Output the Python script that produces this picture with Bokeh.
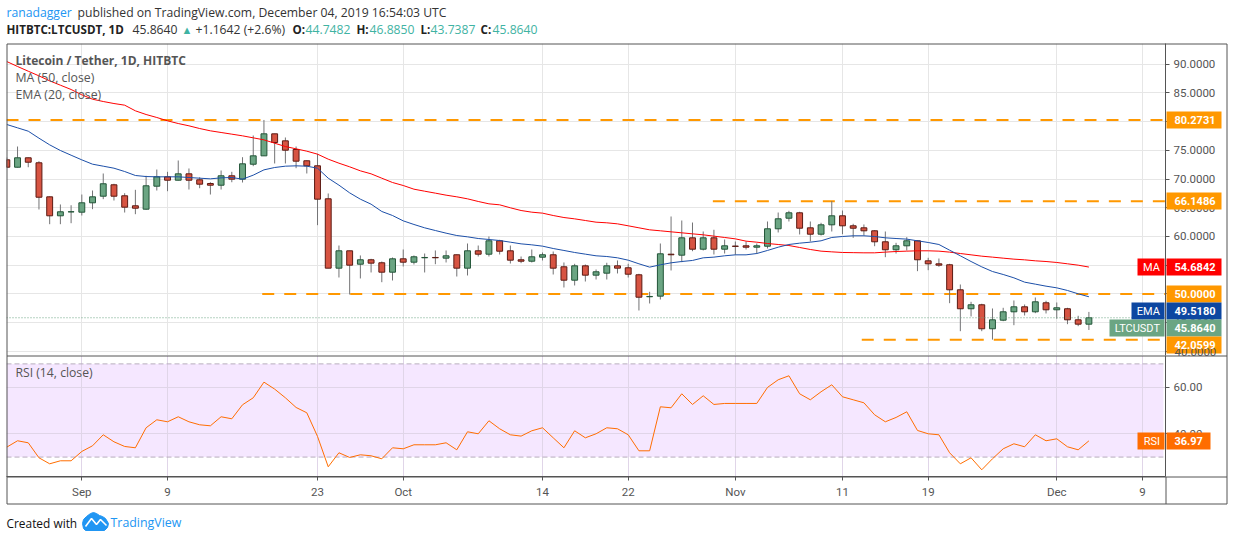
from bokeh.plotting import figure
from bokeh.layouts import column, row
from bokeh.models import Label, Span, FixedTicker, Range1d
from bokeh.embed import file_html
from bokeh.resources import INLINE

days = list(range(-7, 95))
opens = [73.34,72.05,73.69,72.82,66.90,63.60,64.28,64.23,65.86,67.01,68.99,67.08,65.34,64.75,68.75,70.38,69.79,70.90,69.86,69.22,68.92,70.56,69.97,72.57,74.03,77.86,76.64,75.13,73.17,72.30,66.56,54.49,57.51,55.18,55.95,55.43,53.79,56.12,55.53,56.30,56.35,56.23,56.82,54.49,57.51,56.92,59.25,57.51,55.95,55.70,56.40,56.82,54.73,52.40,54.90,53.27,53.62,54.90,54.56,53.34,49.52,49.62,56.92,56.75,59.77,57.79,59.77,57.79,58.33,58.38,58.14,58.31,61.34,63.18,64.12,61.51,60.40,62.03,63.60,61.86,61.51,60.99,59.08,57.69,58.38,59.25,55.77,55.25,55.08,50.73,47.43,48.12,43.95,45.44,46.90,47.77,46.90,48.47,47.25,47.43,45.51,44.7482]
highs = [73.74,75.65,73.74,73.10,66.96,65.57,65.44,67.30,68.00,70.96,69.17,67.53,68.12,70.56,71.65,71.25,73.22,71.83,70.31,69.44,71.48,71.25,73.79,77.57,80.27,77.86,77.22,75.65,73.22,74.38,67.48,58.43,57.51,56.70,56.12,55.65,56.35,57.74,56.70,57.04,57.57,57.57,56.87,58.78,58.43,60.00,59.43,58.43,56.52,57.74,57.22,57.39,55.48,55.25,55.13,54.26,55.43,55.83,55.25,53.51,50.38,58.78,63.48,62.78,62.43,60.87,61.17,59.48,59.13,59.13,58.78,62.61,64.17,64.47,64.30,62.61,62.38,66.15,64.52,62.21,62.09,61.10,60.87,58.90,59.88,59.30,56.30,56.17,55.25,51.65,48.64,48.30,47.48,47.60,48.87,48.17,49.39,48.82,48.52,47.60,46.21,46.885]
lows = [72.00,72.00,72.05,64.70,62.14,62.14,62.31,63.65,64.75,66.49,66.26,64.17,63.88,64.64,68.00,67.88,69.74,68.17,68.40,67.30,68.17,69.44,69.39,72.23,74.03,72.70,72.70,71.88,70.96,61.97,54.49,52.87,49.91,52.70,53.74,52.05,52.35,54.78,55.13,53.74,55.18,55.48,53.04,53.22,56.52,56.52,56.87,55.30,55.36,55.48,55.83,53.39,51.13,51.48,52.17,52.52,52.52,53.57,52.87,47.13,48.35,49.04,54.09,55.53,57.44,57.57,56.87,57.04,56.82,57.74,56.99,57.91,60.70,62.61,60.35,59.13,60.17,60.87,60.40,59.77,60.17,58.31,56.40,57.04,57.57,53.97,54.14,54.73,48.40,43.53,46.09,43.53,42.06,45.27,44.57,46.26,46.66,46.61,45.69,44.75,44.40,43.7387]
closes = [72.05,73.69,72.92,66.83,63.60,64.30,64.30,65.86,66.90,69.17,67.01,65.10,64.92,68.82,70.38,69.79,70.90,69.79,69.10,68.92,70.56,69.97,72.64,74.03,77.86,76.35,75.01,73.10,72.30,66.49,54.49,57.51,55.01,55.95,55.36,53.79,56.12,55.53,56.47,56.35,56.30,56.64,54.49,57.51,56.92,59.25,57.44,55.88,55.70,56.47,56.82,54.49,52.40,54.90,53.27,53.86,54.90,54.49,53.44,49.44,49.57,56.99,56.82,59.77,57.79,59.77,57.79,58.38,58.28,58.14,58.38,61.34,63.08,64.12,61.44,60.40,62.03,63.60,61.86,61.44,60.99,59.08,57.69,58.38,59.25,55.95,55.25,55.01,50.73,47.43,48.12,43.95,45.51,46.90,47.77,46.90,48.64,47.25,47.60,45.51,44.75,45.864]
ma50 = [90.43,89.57,88.75,87.94,87.07,86.32,85.57,84.64,83.88,83.48,83.13,82.84,81.86,81.22,80.70,80.12,79.65,79.25,78.78,78.38,78.09,77.80,77.51,77.16,76.81,76.23,75.65,75.25,74.84,74.32,73.45,72.75,72.12,71.42,70.90,70.14,69.39,68.87,68.23,67.88,67.54,67.19,66.90,66.55,66.09,65.68,65.51,64.99,64.52,64.23,64.06,63.65,63.30,63.07,62.78,62.49,62.38,62.20,61.86,61.51,61.16,60.99,60.81,60.64,60.46,60.29,60.06,59.83,59.59,59.19,59.01,58.78,58.61,58.43,58.09,57.74,57.45,57.33,57.22,57.19,57.16,57.16,57.28,57.39,57.45,57.51,57.51,57.45,57.28,57.04,56.81,56.58,56.41,56.23,56.06,55.94,55.77,55.65,55.48,55.25,55.01,54.6842]
ema20 = [79.48,78.90,78.32,77.10,75.94,74.96,74.14,73.33,72.58,72.23,71.88,71.30,70.61,70.43,70.38,70.38,70.38,70.26,70.14,70.03,70.20,70.26,69.97,70.67,71.59,72.00,72.23,72.29,72.23,71.88,70.14,68.93,67.59,66.49,65.62,64.35,63.65,62.72,62.09,61.51,61.04,60.58,60.17,59.94,59.65,59.48,59.30,59.01,58.72,58.55,58.32,57.91,57.57,57.22,56.93,56.64,56.52,56.29,55.88,55.25,54.67,55.07,55.42,55.65,55.83,56.29,56.41,56.64,56.81,56.81,57.04,57.57,58.14,58.61,58.84,59.01,59.25,59.83,60.00,60.12,60.12,60.00,59.77,59.65,59.54,59.25,58.96,58.61,57.62,56.64,55.65,54.72,53.91,53.39,52.81,52.06,51.71,51.36,51.07,50.61,50.03,49.518]
rsi14 = [34.28,37.00,36.14,29.70,27.12,28.41,28.41,32.42,34.85,39.57,36.57,34.56,33.99,42.58,46.01,45.15,47.30,45.15,43.86,43.43,47.30,46.44,52.45,55.45,62.17,59.17,55.45,51.30,49.01,38.86,25.84,31.85,29.84,30.99,30.56,29.27,33.99,33.56,35.28,35.28,35.28,36.14,33.13,40.86,40.00,45.58,42.15,39.57,39.00,41.29,42.58,38.28,33.99,41.29,38.28,40.00,42.58,42.15,39.57,32.70,32.70,51.59,51.16,57.17,52.59,56.31,52.59,53.02,53.02,53.02,53.02,59.89,63.18,64.89,57.17,54.59,58.03,61.03,55.88,54.59,53.30,48.15,45.15,47.01,49.44,41.43,40.00,39.57,31.85,27.12,29.70,24.55,29.27,33.56,35.71,34.42,39.57,37.00,37.85,34.42,33.13,36.97]

price_ticks = [40, 45, 50, 55, 60, 65, 70, 75, 80, 85, 90]
rsi_ticks = [40, 60]
date_ticks = [0, 8, 22, 30, 43, 51, 61, 71, 79, 91, 99]
date_labels = ["Sep", "9", "23", "Oct", "14", "22", "Nov", "11", "19", "Dec", "9"]
levels = [80.2731, 66.1486, 50.0, 42.0599]
level_starts = [-7.03, 58.9, 16.84, 72.8]
level_ends = [101.15, 101.15, 101.15, 100.7]

FONT = "Open Sans"
NUM = "Roboto"
GRID = "#e6e6e6"
AXIS = "#555555"
UP = "#6ba583"
DOWN = "#d75442"
ORANGE = "#ff9800"
TEAL = "#3fb3a3"
X0, X1 = -7.03, 101.15


def style_axis(ax):
    ax.axis_line_color = AXIS
    ax.major_tick_line_color = AXIS
    ax.minor_tick_line_color = None
    ax.major_tick_out = 4
    ax.major_tick_in = 0
    ax.major_label_text_color = "#555555"
    ax.major_label_text_font = NUM
    ax.major_label_text_font_size = "11.5px"
    ax.major_label_standoff = 4


# price pane
p1 = figure(width=1234, height=355, x_axis_location=None, y_axis_location="right",
            x_range=Range1d(X0, X1), y_range=Range1d(39.30, 93.57),
            output_backend="svg", toolbar_location=None, outline_line_color=None,
            min_border_left=6, min_border_right=69, min_border_top=43, min_border_bottom=0)
p1.yaxis.ticker = FixedTicker(ticks=price_ticks)
overrides = {t: f"{t:.4f}" for t in price_ticks}
overrides[40] = " "
p1.yaxis.major_label_overrides = overrides
style_axis(p1.yaxis[0])
p1.xgrid.ticker = FixedTicker(ticks=date_ticks)
p1.ygrid.ticker = FixedTicker(ticks=price_ticks)
p1.grid.grid_line_color = GRID
p1.grid.grid_line_width = 1

for lvl, a, b in zip(levels, level_starts, level_ends):
    p1.line([a, b], [lvl, lvl], line_color=ORANGE, line_width=2, line_dash="12 10")
p1.add_layout(Span(location=closes[-1], dimension="width", line_color=UP, line_width=1, line_dash="1 2"))

up_idx = [i for i in range(len(days)) if closes[i] >= opens[i]]
dn_idx = [i for i in range(len(days)) if closes[i] < opens[i]]
p1.segment(days, lows, days, highs, line_color="#737375", line_width=1)
p1.vbar([days[i] for i in up_idx], 0.55, [opens[i] for i in up_idx], [closes[i] for i in up_idx],
        fill_color=UP, line_color="#225437", line_width=1)
p1.vbar([days[i] for i in dn_idx], 0.55, [closes[i] for i in dn_idx], [opens[i] for i in dn_idx],
        fill_color=DOWN, line_color="#5b1a13", line_width=1)
p1.line(days, ma50, line_color="#ff0000", line_width=1)
p1.line(days, ema20, line_color="#1c4fa8", line_width=1)

# RSI pane
p2 = figure(width=1234, height=150, y_axis_location="right",
            x_range=p1.x_range, y_range=Range1d(21.67, 73.6),
            output_backend="svg", toolbar_location=None, outline_line_color=None,
            min_border_left=6, min_border_right=69, min_border_top=0, min_border_bottom=29)
p2.yaxis.ticker = FixedTicker(ticks=rsi_ticks)
p2.yaxis.major_label_overrides = {t: f"{t:.2f}" for t in rsi_ticks}
style_axis(p2.yaxis[0])
p2.xaxis.ticker = FixedTicker(ticks=date_ticks)
p2.xaxis.major_label_overrides = dict(zip(date_ticks, date_labels))
style_axis(p2.xaxis[0])
p2.xaxis.major_label_standoff = 4
p2.xgrid.ticker = FixedTicker(ticks=date_ticks)
p2.ygrid.ticker = FixedTicker(ticks=rsi_ticks)
p2.grid.grid_line_color = "#e0d5e8"
p2.grid.grid_line_width = 1
p2.varea([X0, 100.95], [30, 30], [70, 70], fill_color="#9915ff", fill_alpha=0.1, level="underlay")
p2.line([X0, 100.95], [70, 70], line_color="#b7adbd", line_width=1, line_dash="5 3")
p2.line([X0, 100.95], [30, 30], line_color="#b7adbd", line_width=1, line_dash="5 3")
p2.line(days, rsi14, line_color="#ff6d00", line_width=1)

# transparent sheet over the whole page for everything outside the two frames
o = figure(width=1234, height=540, x_range=Range1d(0, 1234), y_range=Range1d(540, 0),
           x_axis_location=None, y_axis_location=None, output_backend="svg", toolbar_location=None,
           min_border=0, outline_line_color=None, background_fill_color=None, border_fill_color=None)
o.grid.visible = False


def txt(x, y, s, color="#333333", size="12.2px", style="normal", align="left", font=FONT):
    o.add_layout(Label(x=x, y=y, text=s, text_color=color, text_font=font, text_font_size=size,
                       text_font_style=style, text_baseline="middle", text_align=align))


def box(l, r, t, b, color):
    o.quad(left=[l], right=[r], top=[t], bottom=[b], fill_color=color, line_color=None)


# panel frames
for xs, ys in [([6.5, 1226.5, 1226.5, 6.5, 6.5], [43.5, 43.5, 503.5, 503.5, 43.5]),
               ([6.5, 1226.5], [355.5, 355.5]), ([6.5, 1226.5], [476.5, 476.5]),
               ([1165.5, 1165.5], [476.5, 503.5])]:
    o.line(xs, ys, line_color=AXIS, line_width=1)

# header
txt(6, 12, "ranadagger", "#2196f3")
txt(77, 12, "published on TradingView.com, December 04, 2019 16:54:03 UTC")
txt(6, 29, "HITBTC:LTCUSDT, 1D", "#222222", style="bold", size="11.6px")
txt(132, 29, "45.8640")
txt(181, 29, "▲", TEAL, size="11px")
txt(195, 29, "+1.1642 (+2.6%)")
for x, s in [(292, "O:"), (356, "H:"), (420, "L:"), (480, "C:")]:
    txt(x, 29, s, "#222222", style="bold", size="11.6px")
for x, s in [(305, "44.7482"), (369, "46.8850"), (430, "43.7387"), (492, "45.8640")]:
    txt(x, 29, s, TEAL)
txt(15, 60, "Litecoin / Tether, 1D, HITBTC", "#555555", style="bold", size="12px")
txt(15, 77, "MA (50, close)", "#555555", size="12.3px")
txt(15, 94, "EMA (20, close)", "#555555", size="12.3px")
txt(15, 372, "RSI (14, close)", "#555555", size="12.2px")

# the axis label that the 42.0599 tag nearly hides
txt(1174, 351, "40.0000", "#555555", size="11.5px", font=NUM)

# price tags
tags = [("80.2731", 111, 128, ORANGE), ("66.1486", 192, 209, ORANGE), ("54.6842", 258, 275, "#ff0000"),
        ("50.0000", 285, 302, ORANGE), ("49.5180", 302, 319, "#0d47a1"), ("45.8640", 319, 336, UP),
        ("42.0599", 336, 353, ORANGE)]
for s, t, b, c in tags:
    box(1166, 1221, t, b, c)
    txt(1174, (t + b) / 2, s, "#ffffff", style="bold", size="11px", font=NUM)
for s, l, t, b, c in [("MA", 1137, 258, 275, "#ff0000"), ("EMA", 1131, 302, 319, "#0d47a1"),
                      ("LTCUSDT", 1109, 319, 336, UP)]:
    box(l, 1164, t, b, c)
    txt(1159.5, (t + b) / 2, s, "#ffffff", size="11px", align="right", font=NUM)
box(1166, 1210, 432, 449, "#ff6d00")
txt(1174, 440.5, "36.97", "#ffffff", style="bold", size="11px", font=NUM)
box(1137, 1164, 432, 449, "#ff6d00")
txt(1159.5, 440.5, "RSI", "#ffffff", size="11px", align="right", font=NUM)

# footer
txt(6, 522, "Created with", "#111111", size="11.9px")
txt(110, 522, "TradingView", "#2196f3", size="12.4px")
o.patch([82, 83, 86, 90, 93, 96, 99, 102, 105, 108, 107, 104, 85, 83],
        [523, 519, 516, 513, 512, 513, 515, 516, 518, 523, 527, 530, 530, 528], color="#2196f3")
o.line([85, 91, 96, 100, 106], [526, 518, 524, 519, 525], line_color="#ffffff", line_width=1.6)

panes = column(p1, p2, spacing=0)
sheet = row(o, margin=(-505, 0, 0, 0))
layout = column(panes, sheet, spacing=0)
html = file_html(layout, INLINE)
html = html.replace("<head>", "<head><style>html,body{margin:0;padding:0;overflow:hidden}</style>", 1)
open("out.html", "w").write(html)
